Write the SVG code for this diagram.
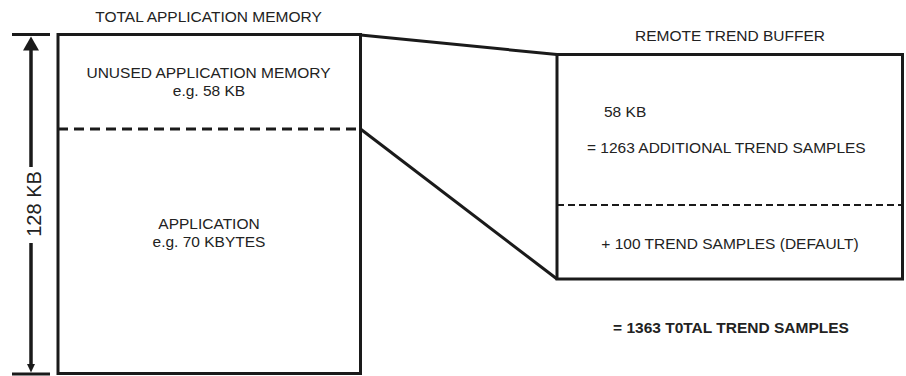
<svg xmlns="http://www.w3.org/2000/svg" width="906" height="376" viewBox="0 0 906 376">
<style>
  text { font-family: "Liberation Sans", Arial, sans-serif; font-size: 15.5px; fill: #222; }
  .c { text-anchor: middle; }
  .box { fill: #fff; stroke: #1a1a1a; stroke-width: 3; }
  .ln { stroke: #1a1a1a; stroke-width: 3; fill: none; }
  .dash1 { stroke: #1a1a1a; stroke-width: 3; stroke-dasharray: 10 6; fill: none; }
  .dash2 { stroke: #1a1a1a; stroke-width: 1.8; stroke-dasharray: 7 4; fill: none; }
  .b { font-weight: bold; }
</style>
<rect width="906" height="376" fill="#fff"/>
<g id="dimension">
  <line class="ln" x1="12" y1="34.5" x2="50" y2="34.5"/>
  <line class="ln" x1="12" y1="374" x2="50" y2="374"/>
  <line x1="31" y1="48" x2="31" y2="167" stroke="#1a1a1a" stroke-width="3.5"/>
  <line x1="31" y1="243" x2="31" y2="366" stroke="#1a1a1a" stroke-width="3.5"/>
  <polygon points="31,36.5 23,50.5 39,50.5" fill="#1a1a1a"/>
  <polygon points="31,372.5 27,364 35,364" fill="#1a1a1a"/>
  <text class="c" transform="translate(40.5,204) rotate(-90)" style="font-size:20px">128 KB</text>
</g>
<g id="total-memory">
  <text class="c" x="208.5" y="22">TOTAL APPLICATION MEMORY</text>
  <rect class="box" x="58" y="34.5" width="302.5" height="339"/>
  <line class="dash1" x1="58" y1="129" x2="360.5" y2="129"/>
  <text class="c" x="208.5" y="78">UNUSED APPLICATION MEMORY</text>
  <text class="c" x="209" y="96">e.g. 58 KB</text>
  <text class="c" x="209" y="229">APPLICATION</text>
  <text class="c" x="209" y="247">e.g. 70 KBYTES</text>
</g>
<g id="connectors">
  <line class="ln" x1="360.5" y1="35" x2="557" y2="54.5"/>
  <line class="ln" x1="360.5" y1="129" x2="557" y2="279"/>
</g>
<g id="remote-trend-buffer">
  <text class="c" x="730" y="41">REMOTE TREND BUFFER</text>
  <rect class="box" x="557" y="54.5" width="345.5" height="224.5"/>
  <line class="dash2" x1="557" y1="205" x2="902.5" y2="205"/>
  <text x="604" y="117">58 KB</text>
  <text x="587" y="153">= 1263 ADDITIONAL TREND SAMPLES</text>
  <text class="c" x="730" y="249">+ 100 TREND SAMPLES (DEFAULT)</text>
</g>
<g id="total">
  <text class="c b" x="731" y="333">= 1363 T0TAL TREND SAMPLES</text>
</g>
</svg>
